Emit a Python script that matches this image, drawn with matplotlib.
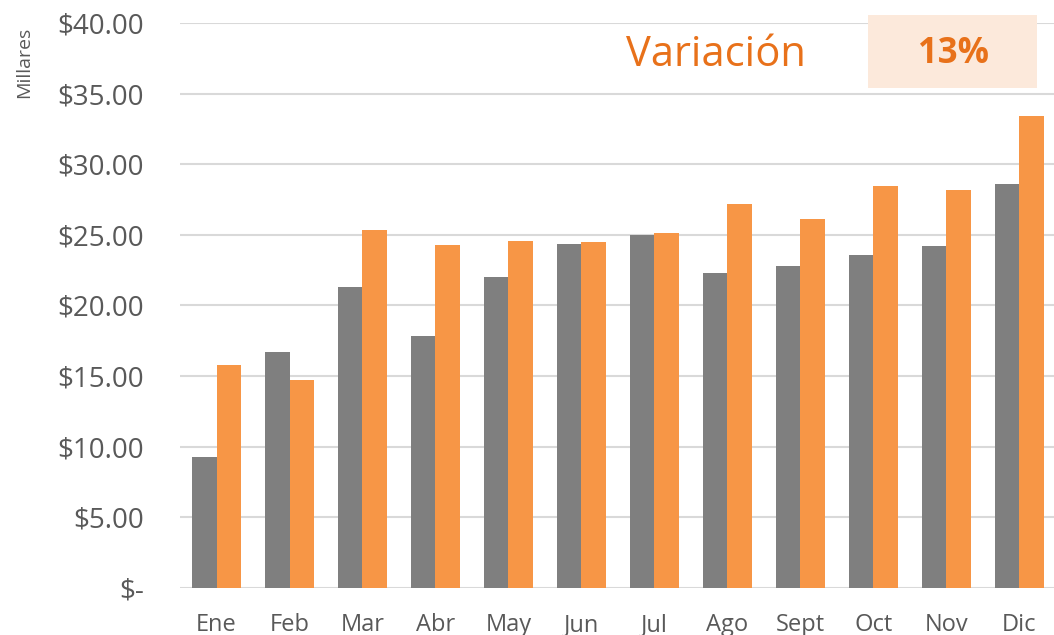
import numpy as np
import matplotlib.pyplot as plt
from matplotlib.patches import Rectangle
from matplotlib.ticker import FuncFormatter

# data
meses = ['Ene', 'Feb', 'Mar', 'Abr', 'May', 'Jun', 'Jul', 'Ago', 'Sept', 'Oct', 'Nov', 'Dic']
anterior = [9.3, 16.7, 21.3, 17.85, 22.0, 24.35, 25.0, 22.3, 22.8, 23.6, 24.2, 28.6]
actual = [15.8, 14.7, 25.35, 24.3, 24.55, 24.5, 25.15, 27.2, 26.1, 28.45, 28.2, 33.4]
variacion = '13%'

gris = '#7F7F7F'
naranja = '#F79646'
texto = '#595959'

plt.rcParams['font.family'] = ['Open Sans', 'DejaVu Sans']

fig = plt.figure(figsize=(10.54, 6.35), dpi=100)
ax = fig.add_axes([0.1708, 0.074, 0.831, 0.8898])

x = np.arange(len(meses))
w = 0.34
ax.bar(x - w / 2, anterior, w, color=gris, zorder=3)
ax.bar(x + w / 2, actual, w, color=naranja, zorder=3)

ax.set_xlim(-0.5, len(meses) - 0.5)
ax.set_ylim(0, 40)
ax.set_yticks(np.arange(0, 41, 5))
ax.yaxis.set_major_formatter(FuncFormatter(lambda v, p: '$-' if v == 0 else f'${v:.2f}'))
ax.set_xticks(x)
ax.set_xticklabels(meses)
ax.tick_params(axis='y', length=0, labelsize=20, labelcolor=texto, pad=26)
ax.tick_params(axis='x', length=0, labelsize=17, labelcolor=texto, pad=18)
ax.grid(axis='y', color='#D9D9D9', linewidth=1.5, zorder=0)
for s in ax.spines.values():
    s.set_visible(False)

fig.text(24 / 1054, 1 - 62 / 635, 'Millares', rotation=90, ha='center', va='center',
         fontsize=14, color=texto)

# caja de variacion
fig.patches.append(Rectangle((868 / 1054, 1 - 88 / 635), 169 / 1054, 73 / 635,
                             transform=fig.transFigure, facecolor='#FCE9DB',
                             edgecolor='none', zorder=5))
fig.text(716 / 1054, 1 - 55 / 635, 'Variación', ha='center', va='center',
         fontsize=30, color='#E8711A', zorder=6)
fig.text(953 / 1054, 1 - 54 / 635, variacion, ha='center', va='center',
         fontsize=25, fontweight='bold', color='#E8711A', zorder=6)

fig.savefig('out.png', dpi=100)
